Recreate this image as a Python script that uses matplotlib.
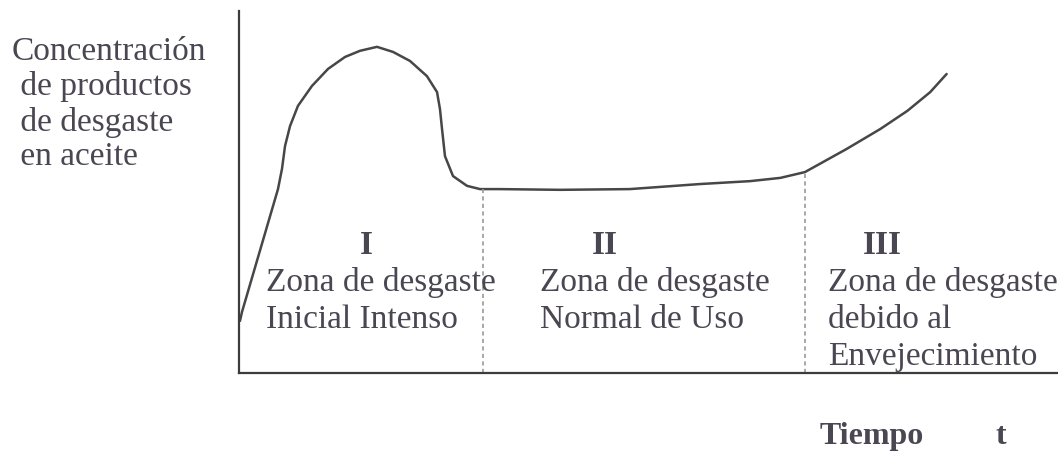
import matplotlib.pyplot as plt

# wear curve: time (0-100) vs concentration of wear products (0-100)
tiempo = [0.12, 0.37, 4.76, 5.25, 5.62, 6.23, 7.20, 8.91, 10.87, 12.94, 14.77,
          16.85, 18.80, 20.88, 22.95, 24.18, 24.54, 24.79, 25.15, 26.13, 27.84,
          29.43, 31.87, 39.2, 47.7, 56.3, 62.4, 66.1, 69.1, 74.2, 78.3, 81.6,
          84.4, 86.4]
concentracion = [14.4, 16.9, 50.8, 56.4, 62.7, 68.2, 73.8, 79.3, 84.0, 87.3, 89.0,
                 90.1, 88.7, 86.2, 82.0, 77.6, 72.9, 67.4, 59.9, 54.4, 51.7, 50.8,
                 50.8, 50.6, 50.8, 52.2, 53.0, 53.9, 55.5, 61.9, 67.4, 72.4, 77.6,
                 82.6]

# zone boundaries (time) and curve height where each boundary meets the curve
limites_t = [29.8, 69.1]
limites_c = [50.8, 55.5]

zonas = ['I', 'II', 'III']
zona_textos = [['Zona de desgaste', 'Inicial Intenso'],
               ['Zona de desgaste', 'Normal de Uso'],
               ['Zona de desgaste', 'debido al', 'Envejecimiento']]
ylabel_lineas = ['Concentración', ' de productos', ' de desgaste', ' en aceite']

plt.rcParams['font.family'] = ['Liberation Serif', 'DejaVu Serif']
color_texto = '#4a4652'
color_linea = '#474747'

fig = plt.figure(figsize=(10.58, 4.52), dpi=100)
ax = fig.add_axes([239 / 1058, 78 / 452, 819 / 1058, 362 / 452])
ax.set_xlim(0, 100)
ax.set_ylim(0, 100)
for s in ['top', 'right']:
    ax.spines[s].set_visible(False)
for s in ['left', 'bottom']:
    ax.spines[s].set_linewidth(1.6)
    ax.spines[s].set_color('#3c3c3c')
ax.set_xticks([])
ax.set_yticks([])

ax.plot(tiempo, concentracion, color=color_linea, lw=1.8, clip_on=False,
        solid_capstyle='round', solid_joinstyle='round')

for t, c in zip(limites_t, limites_c):
    ax.plot([t, t], [0, c], color='#9a9a9a', lw=1.2, linestyle=(0, (2.5, 2)))

# zone labels
num_pos = [(15.5, 35.6), (44.7, 35.6), (78.5, 35.6)]
txt_pos = [3.3, 36.8, 71.9]
renglones = [25.4, 14.9, 4.7]
for z, (xn, yn), xt, lineas in zip(zonas, num_pos, txt_pos, zona_textos):
    ax.text(xn, yn, z, fontsize=24, fontweight='bold', color=color_texto,
            ha='center', va='center')
    for i, linea in enumerate(lineas):
        ax.text(xt, renglones[i], linea, fontsize=24, color=color_texto,
                ha='left', va='center')

# y label block
for i, linea in enumerate(ylabel_lineas):
    fig.text(12 / 1058, 1 - (52 + 35 * i) / 452, linea, fontsize=24,
             color=color_texto, ha='left', va='center')

# x label
fig.text(820 / 1058, 1 - 437 / 452, 'Tiempo', fontsize=23, fontweight='bold',
         color=color_texto, ha='left', va='center')
fig.text(996 / 1058, 1 - 437 / 452, 't', fontsize=23, fontweight='bold',
         color=color_texto, ha='left', va='center')

fig.savefig('out.png', dpi=100)
